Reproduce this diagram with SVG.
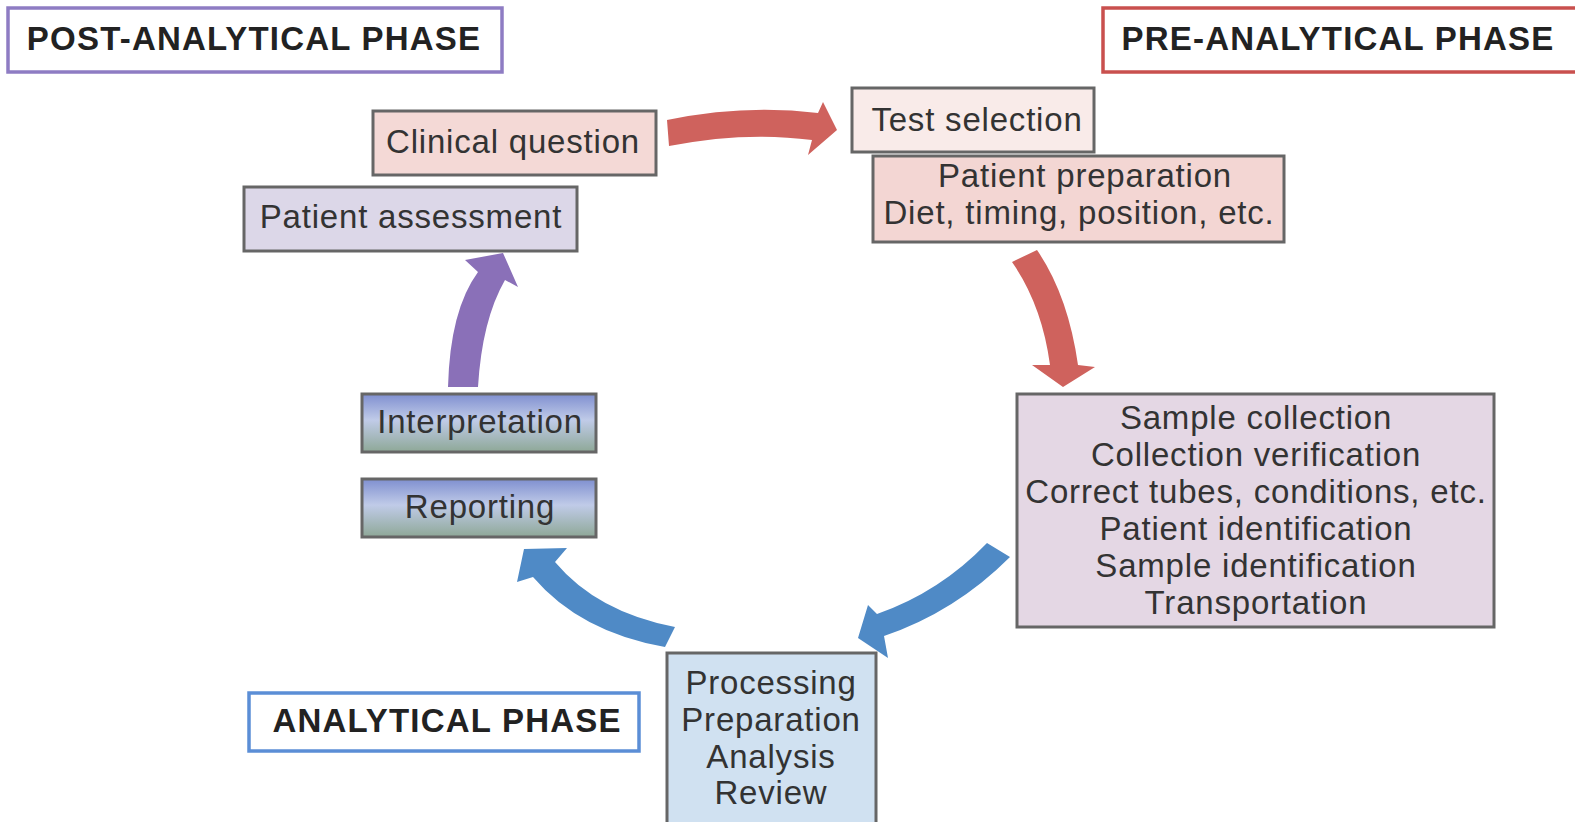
<svg xmlns="http://www.w3.org/2000/svg" width="1575" height="822" viewBox="0 0 1575 822">
<style>
  text { font-family: "Liberation Sans", Arial, sans-serif; font-size: 33px; fill: #333; text-anchor: middle; letter-spacing: 0.8px; }
  .hdr { font-weight: bold; letter-spacing: 1.2px; fill: #222; }
  .box { stroke: #666; stroke-width: 3; }
  .phase { fill: #fff; stroke-width: 3.5; }
</style>
<defs>
  <linearGradient id="gBlue" x1="0" y1="0" x2="0" y2="1">
    <stop offset="0" stop-color="#7f8fd0"/>
    <stop offset="0.45" stop-color="#c0cbe8"/>
    <stop offset="1" stop-color="#8ea897"/>
  </linearGradient>
</defs>
<rect width="1575" height="822" fill="#fff"/>

<g id="post-phase">
  <rect class="phase" x="8" y="8" width="494" height="64" stroke="#8e7cc3"/>
  <text class="hdr" x="254" y="50">POST-ANALYTICAL PHASE</text>
</g>
<g id="pre-phase">
  <rect class="phase" x="1103" y="8" width="480" height="64" stroke="#c9504e"/>
  <text class="hdr" x="1338" y="50">PRE-ANALYTICAL PHASE</text>
</g>
<g id="analytical-phase">
  <rect class="phase" x="249" y="693" width="390" height="58" stroke="#5b8ed6"/>
  <text class="hdr" x="447" y="732">ANALYTICAL PHASE</text>
</g>

<g id="clinical-question">
  <rect class="box" x="373" y="111" width="283" height="64" fill="#f4d9d6"/>
  <text x="513" y="153">Clinical question</text>
</g>
<g id="patient-assessment">
  <rect class="box" x="244" y="187" width="333" height="64" fill="#dcd7e8"/>
  <text x="411" y="228">Patient assessment</text>
</g>
<g id="test-selection">
  <rect class="box" x="852" y="88" width="242" height="64" fill="#f9ebe9"/>
  <text x="977" y="131">Test selection</text>
</g>
<g id="patient-preparation">
  <rect class="box" x="873" y="156" width="411" height="86" fill="#f3d6d3"/>
  <text x="1085" y="187">Patient preparation</text>
  <text x="1079" y="224">Diet, timing, position, etc.</text>
</g>
<g id="sample-collection">
  <rect class="box" x="1017" y="394" width="477" height="233" fill="#e4d7e4"/>
  <text x="1256" y="429">Sample collection</text>
  <text x="1256" y="466">Collection verification</text>
  <text x="1256" y="503">Correct tubes, conditions, etc.</text>
  <text x="1256" y="540">Patient identification</text>
  <text x="1256" y="577">Sample identification</text>
  <text x="1256" y="614">Transportation</text>
</g>
<g id="processing">
  <rect class="box" x="667" y="653" width="209" height="180" fill="#d0e1f1"/>
  <text x="771" y="694">Processing</text>
  <text x="771" y="731">Preparation</text>
  <text x="771" y="768">Analysis</text>
  <text x="771" y="804">Review</text>
</g>
<g id="interpretation">
  <rect class="box" x="362" y="394" width="234" height="58" fill="url(#gBlue)"/>
  <text x="480" y="433">Interpretation</text>
</g>
<g id="reporting">
  <rect class="box" x="362" y="479" width="234" height="58" fill="url(#gBlue)"/>
  <text x="480" y="518">Reporting</text>
</g>

<g id="connectors">
  <path d="M667,120 Q745,104 818,113 L823,102 L837,130 L808,155 L812,140 Q745,131 669,146 Z" fill="#cf625d"/>
  <path d="M1012,262 L1037,250 Q1068,295 1078,365 L1095,367 L1063,387 L1032,365 L1050,365 Q1042,305 1012,262 Z" fill="#cf625d"/>
  <path d="M987,543 Q940,592 877,614 L868,605 L858,638 L888,658 L884,636 Q955,612 1010,557 Z" fill="#4f8ac6"/>
  <path d="M675,627 Q597,612 555,562 L567,548 L524,549 L517,582 L533,577 Q580,632 665,647 Z" fill="#4f8ac6"/>
  <path d="M448,387 Q450,310 478,272 L465,260 L503,253 L518,287 L505,280 Q482,320 478,387 Z" fill="#8a70b8"/>
</g>
</svg>
